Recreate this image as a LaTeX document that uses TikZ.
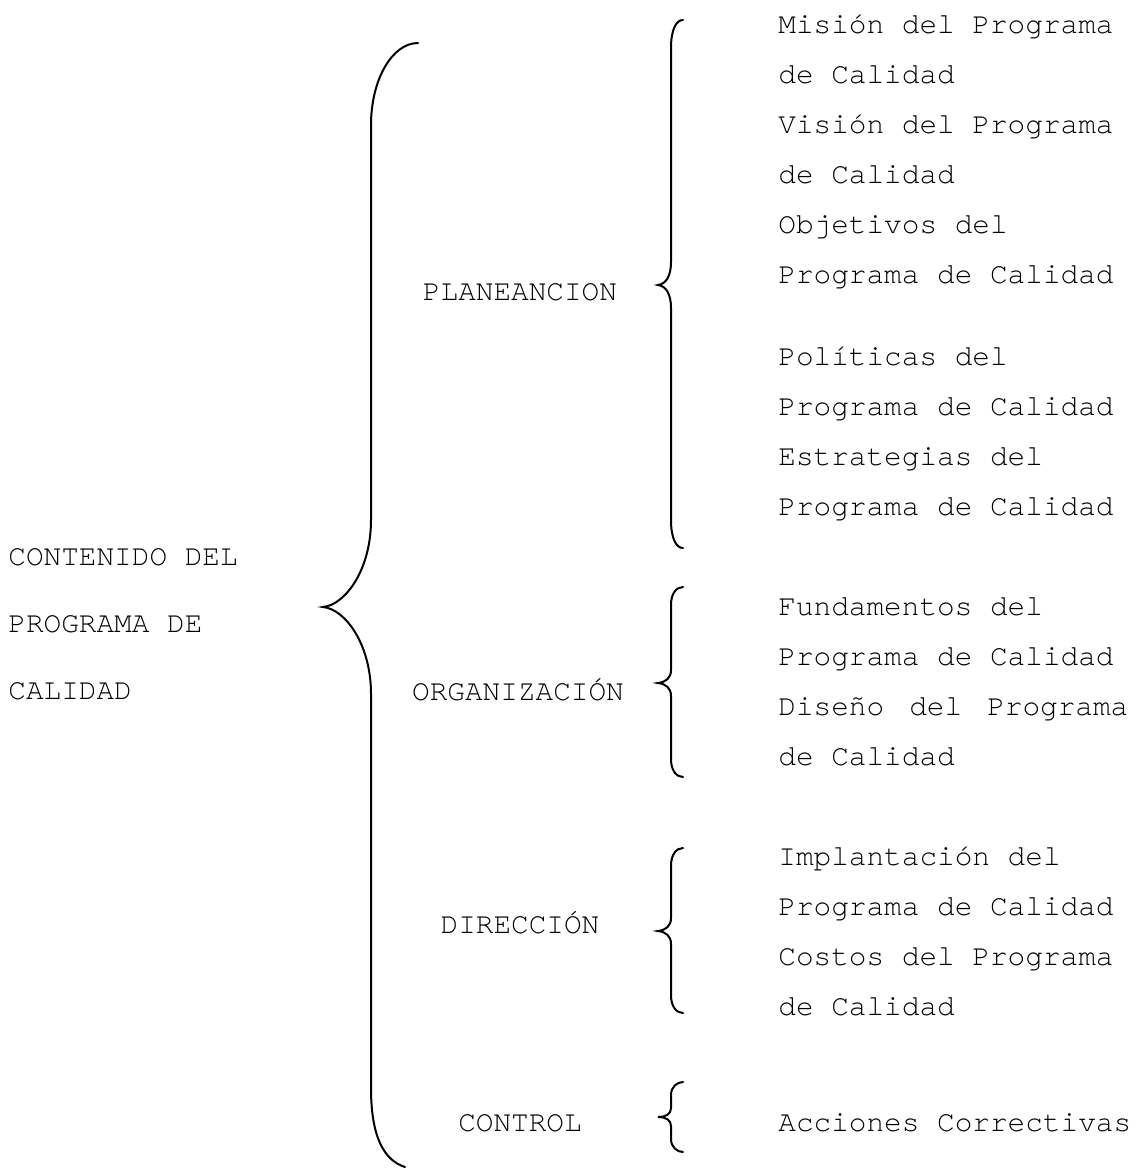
\documentclass[tikz,border=0pt]{standalone}
\usepackage{fontspec}
\newfontfamily\courier{TeX Gyre Cursor}
\usepackage{tikz}
\tikzset{
  item/.style   = {font=\courier\fontsize{14.7}{18}\selectfont, inner sep=0pt, anchor=base west},
  rama/.style   = {font=\courier\fontsize{14.7}{18}\selectfont, inner sep=0pt, anchor=base},
  raiz/.style   = {font=\courier\fontsize{14.7}{18}\selectfont, inner sep=0pt, anchor=base west},
  llave/.style  = {black, line width=1pt, line cap=round},
}

\begin{document}
\begin{tikzpicture}[x=0.5pt, y=-0.5pt]
  % marco: medidas en px de la imagen
  \useasboundingbox (0,0) rectangle (1137,1168);

  % titulo general
  \node[raiz] (t1) at (8,565) {CONTENIDO DEL};
  \node[raiz] (t2) at (8,632) {PROGRAMA DE};
  \node[raiz] (t3) at (8,699) {CALIDAD};

  % llave grande
  \draw[llave] (418,43) .. controls (392,43) and (371,80) .. (371,125)
    -- (371,520) .. controls (371,570) and (345,605) .. (323,607)
    .. controls (345,609) and (371,644) .. (371,694)
    -- (371,1088) .. controls (371,1135) and (383,1160) .. (405,1167);

  % etapas
  \node[rama] (plan) at (520,300)  {PLANEANCION};
  \node[rama] (org)  at (518,700)  {ORGANIZACIÓN};
  \node[rama] (dir)  at (520,933)  {DIRECCIÓN};
  \node[rama] (ctrl) at (520,1131) {CONTROL};

  % llaves chicas
  \draw[llave] (683,20) .. controls (676,20) and (671,30) .. (671,48)
    -- (671,262) .. controls (671,276) and (666,284) .. (658,285)
    .. controls (666,286) and (671,294) .. (671,308)
    -- (671,520) .. controls (671,538) and (676,548) .. (683,548);
  \draw[llave] (683,587) .. controls (676,587) and (671,594) .. (671,605)
    -- (671,670) .. controls (671,678) and (666,682) .. (658,683)
    .. controls (666,684) and (671,688) .. (671,696)
    -- (671,759) .. controls (671,770) and (676,777) .. (683,777);
  \draw[llave] (683,848) .. controls (676,848) and (671,855) .. (671,866)
    -- (671,918) .. controls (671,926) and (666,930) .. (658,931)
    .. controls (666,932) and (671,936) .. (671,944)
    -- (671,995) .. controls (671,1006) and (676,1013) .. (683,1013);
  \draw[llave] (683,1082) .. controls (677,1082) and (671,1087) .. (671,1095)
    -- (671,1108) .. controls (671,1114) and (666,1117) .. (658,1117)
    .. controls (666,1117) and (671,1120) .. (671,1126)
    -- (671,1139) .. controls (671,1147) and (677,1152) .. (683,1152);

  % contenido de cada etapa
  \foreach \y/\txt [count=\i] in {
      33/{Misión del Programa}, 83/{de Calidad},
      133/{Visión del Programa}, 183/{de Calidad},
      233/{Objetivos del}, 283/{Programa de Calidad},
      365/{Políticas del}, 415/{Programa de Calidad},
      465/{Estrategias del}, 515/{Programa de Calidad},
      615/{Fundamentos del}, 665/{Programa de Calidad},
      715/{\makebox[175pt][l]{Diseño\hfill del\hfill Programa}}, 765/{de Calidad},
      865/{Implantación del}, 915/{Programa de Calidad},
      965/{Costos del Programa}, 1015/{de Calidad},
      1131/{Acciones Correctivas}}
    \node[item] (c\i) at (778,\y) {\txt};
\end{tikzpicture}
\end{document}
